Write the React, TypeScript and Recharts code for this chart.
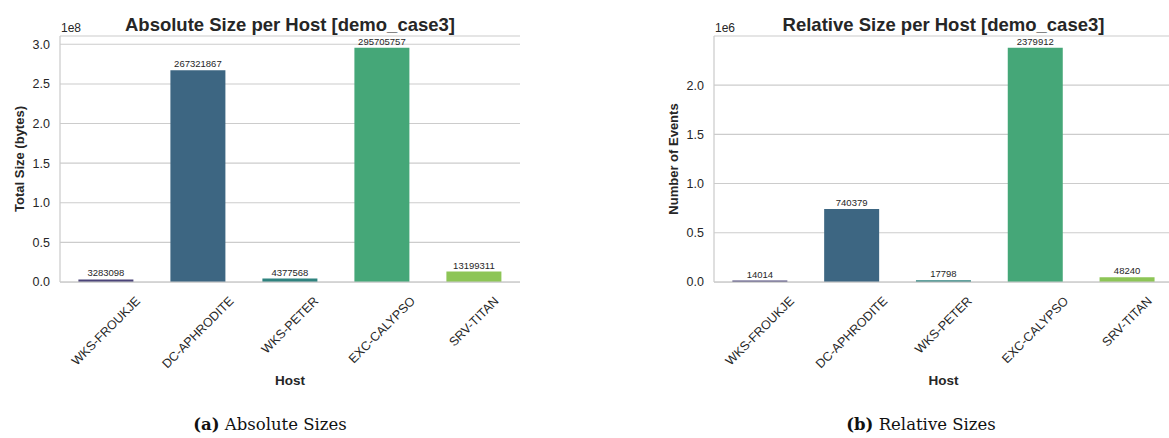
import React from 'react';
import {
  BarChart,
  Bar,
  XAxis,
  YAxis,
  CartesianGrid,
  Cell,
  LabelList,
} from 'recharts';

// hosts in plot order
const hosts = ['WKS-FROUKJE', 'DC-APHRODITE', 'WKS-PETER', 'EXC-CALYPSO', 'SRV-TITAN'];

// absolute size in bytes
const totalSizeBytes = [3283098, 267321867, 4377568, 295705757, 13199311];

// relative size, number of events
const eventCounts = [14014, 740379, 17798, 2379912, 48240];

// seaborn viridis (desaturated)
const barColors = ['#4b4479', '#3d6682', '#2f837f', '#45a778', '#8dc556'];

const absTicks = [0, 0.5e8, 1.0e8, 1.5e8, 2.0e8, 2.5e8, 3.0e8];
const relTicks = [0, 0.5e6, 1.0e6, 1.5e6, 2.0e6];

const FONT = "'Liberation Sans', Arial, sans-serif";
const SERIF = "'DejaVu Serif', 'Liberation Serif', serif";
const TEXT = '#262626';
const GRID = '#cccccc';
const TICK_FS = 12.5;

let ctx: CanvasRenderingContext2D | null = null;
const measure = (t: string) => {
  if (!ctx) ctx = document.createElement('canvas').getContext('2d');
  if (!ctx) return t.length * 7;
  ctx.font = `${TICK_FS}px ${FONT}`;
  return ctx.measureText(t).width;
};

// matplotlib style: rotation 45, centered on the tick
const HostTick = (props: any) => {
  const { x, y, payload } = props;
  const len = measure(payload.value);
  const cy = y + 12 + (0.7071 * (len + 14)) / 2;
  return (
    <text
      x={x}
      y={cy}
      textAnchor="middle"
      dominantBaseline="central"
      fontSize={TICK_FS}
      fontFamily={FONT}
      fill={TEXT}
      transform={`rotate(-45, ${x}, ${cy})`}
    >
      {payload.value}
    </text>
  );
};

interface PanelProps {
  values: number[];
  ticks: number[];
  scale: number;
  width: number;
  yAxisWidth: number;
  rightMargin: number;
}

const Panel: React.FC<PanelProps> = ({ values, ticks, scale, width, yAxisWidth, rightMargin }) => {
  const data = hosts.map((h, i) => ({ host: h, value: values[i] }));
  const top = Math.max(...values) * 1.05;
  return (
    <BarChart
      width={width}
      height={438}
      data={data}
      margin={{ top: 36, right: rightMargin, bottom: 0, left: 0 }}
      barCategoryGap="20%"
      style={{ fontFamily: FONT }}
    >
      <CartesianGrid vertical={false} stroke={GRID} strokeWidth={1.1} />
      <XAxis
        dataKey="host"
        height={156}
        tickSize={0}
        tickMargin={0}
        interval={0}
        tick={<HostTick />}
        axisLine={{ stroke: GRID, strokeWidth: 1.25 }}
      />
      <XAxis
        xAxisId="top"
        orientation="top"
        dataKey="host"
        height={0}
        tick={false}
        tickLine={false}
        axisLine={{ stroke: GRID, strokeWidth: 1.25 }}
      />
      <YAxis
        width={yAxisWidth}
        domain={[0, top]}
        ticks={ticks}
        tickSize={0}
        tickMargin={10}
        tickLine={false}
        tickFormatter={(v: number) => (v / scale).toFixed(1)}
        tick={{ fontSize: TICK_FS, fill: TEXT, fontFamily: FONT }}
        axisLine={{ stroke: GRID, strokeWidth: 1.25 }}
      />
      <YAxis
        yAxisId="right"
        orientation="right"
        width={0}
        domain={[0, top]}
        tick={false}
        tickLine={false}
        axisLine={{ stroke: GRID, strokeWidth: 1.25 }}
      />
      <Bar dataKey="value" isAnimationActive={false}>
        {data.map((d, i) => (
          <Cell key={d.host} fill={barColors[i]} />
        ))}
        <LabelList
          dataKey="value"
          position="top"
          offset={3}
          fontSize={9.5}
          fill={TEXT}
          fontFamily={FONT}
        />
      </Bar>
    </BarChart>
  );
};

export default function App() {
  return (
    <div
      style={{
        position: 'absolute',
        left: 0,
        top: 0,
        width: 1169,
        height: 438,
        overflow: 'hidden',
        background: '#fff',
      }}
    >
      <div style={{ position: 'absolute', left: 0, top: 0 }}>
        <Panel values={totalSizeBytes} ticks={absTicks} scale={1e8} width={560} yAxisWidth={60} rightMargin={40} />
      </div>
      <div style={{ position: 'absolute', left: 600, top: 0 }}>
        <Panel values={eventCounts} ticks={relTicks} scale={1e6} width={620} yAxisWidth={114} rightMargin={47} />
      </div>
      <svg
        width={1169}
        height={438}
        style={{ position: 'absolute', left: 0, top: 0, pointerEvents: 'none' }}
        fontFamily={FONT}
        fill={TEXT}
      >
        <text x={290} y={31} textAnchor="middle" fontSize={18.5} fontWeight="bold">
          Absolute Size per Host [demo_case3]
        </text>
        <text x={61} y={32} fontSize={12}>1e8</text>
        <text x={24} y={159} textAnchor="middle" fontSize={13} fontWeight="bold" transform="rotate(-90, 24, 159)">
          Total Size (bytes)
        </text>
        <text x={290} y={385} textAnchor="middle" fontSize={13.5} fontWeight="bold">Host</text>
        <text x={270} y={430} textAnchor="middle" fontSize={16.5} fontFamily={SERIF} fill="#111">
          <tspan fontWeight="bold">(a)</tspan> Absolute Sizes
        </text>

        <text x={943.5} y={31} textAnchor="middle" fontSize={18.5} fontWeight="bold">
          Relative Size per Host [demo_case3]
        </text>
        <text x={715} y={32} fontSize={12}>1e6</text>
        <text x={678} y={159} textAnchor="middle" fontSize={13} fontWeight="bold" transform="rotate(-90, 678, 159)">
          Number of Events
        </text>
        <text x={943.5} y={385} textAnchor="middle" fontSize={13.5} fontWeight="bold">Host</text>
        <text x={921} y={430} textAnchor="middle" fontSize={16.5} fontFamily={SERIF} fill="#111">
          <tspan fontWeight="bold">(b)</tspan> Relative Sizes
        </text>
      </svg>
    </div>
  );
}
